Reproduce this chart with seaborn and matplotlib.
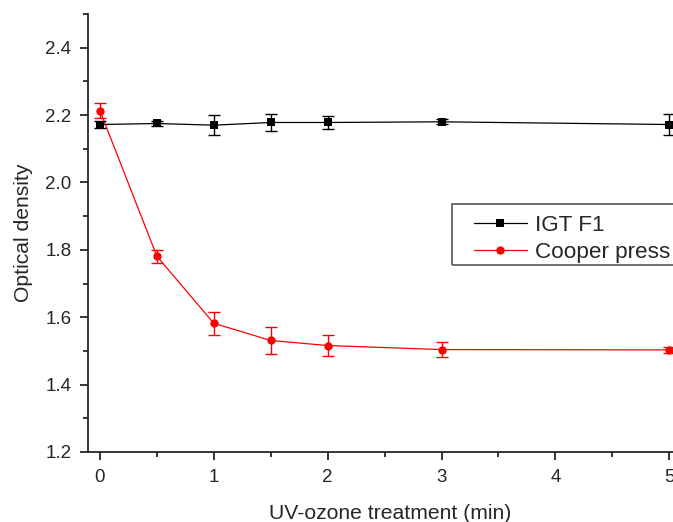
import matplotlib
matplotlib.use("Agg")
import matplotlib.pyplot as plt
import seaborn as sns
import pandas as pd
from matplotlib.patches import Rectangle
from matplotlib.ticker import MultipleLocator

# data
time_min = [0, 0.5, 1, 1.5, 2, 3, 5]
igt_f1 = [2.172, 2.175, 2.170, 2.178, 2.178, 2.180, 2.172]
igt_f1_err = [0.010, 0.008, 0.030, 0.025, 0.020, 0.007, 0.030]
cooper = [2.213, 1.781, 1.582, 1.531, 1.516, 1.504, 1.503]
cooper_err = [0.022, 0.020, 0.035, 0.040, 0.032, 0.022, 0.008]

sns.set_style("ticks")
plt.rcParams['font.family'] = ['Liberation Sans', 'DejaVu Sans']

df = pd.DataFrame({
    'time': time_min * 2,
    'od': igt_f1 + cooper,
    'err': igt_f1_err + cooper_err,
    'sample': ['IGT F1'] * len(time_min) + ['Cooper press'] * len(time_min),
})

W, H = 673, 522
fig = plt.figure(figsize=(W / 100, H / 100), dpi=100)
ax = fig.add_axes([88 / W, 70 / H, 604 / W, 438 / H])

palette = {'IGT F1': 'black', 'Cooper press': 'red'}
markers = {'IGT F1': 's', 'Cooper press': 'o'}
sns.lineplot(data=df, x='time', y='od', hue='sample', style='sample',
             palette=palette, markers=markers, dashes=False, markersize=6,
             markeredgewidth=0, linewidth=0.9, ax=ax)

for name, grp in df.groupby('sample'):
    ax.errorbar(grp['time'], grp['od'], yerr=grp['err'], fmt='none',
                ecolor=palette[name], elinewidth=1, capsize=4, capthick=1)

ax.set_xlim(-0.105, 5.2)
ax.set_ylim(1.2, 2.5)
ax.xaxis.set_major_locator(MultipleLocator(1))
ax.xaxis.set_minor_locator(MultipleLocator(0.5))
ax.yaxis.set_minor_locator(MultipleLocator(0.1))
ax.set_yticks([1.2, 1.4, 1.6, 1.8, 2.0, 2.2, 2.4])
ax.tick_params(which='major', direction='out', length=6, width=1.3, labelsize=13.5, pad=6)
ax.tick_params(which='minor', direction='out', length=3.5, width=1.3)
for s in ['top', 'right']:
    ax.spines[s].set_visible(False)
for s in ['left', 'bottom']:
    ax.spines[s].set_linewidth(1.3)

ax.set_xlabel('UV-ozone treatment (min)', fontsize=15.2, labelpad=13)
ax.set_ylabel('Optical density', fontsize=15.2, labelpad=9)

# legend without its own frame; the frame runs off the right edge as in the original
leg = ax.legend(loc='upper left', bbox_to_anchor=(474 / W, 1 - 215 / H),
                bbox_transform=fig.transFigure,
                fontsize=16.2, frameon=False, handlelength=2.35,
                borderpad=0, labelspacing=0.25, handletextpad=0.35, borderaxespad=0)
fig.patches.append(Rectangle((452 / W, 1 - 265 / H), 260 / W, 61 / H,
                             transform=fig.transFigure, fill=False,
                             edgecolor='#555555', linewidth=1.2, zorder=5))

fig.savefig('out.png', dpi=100)
